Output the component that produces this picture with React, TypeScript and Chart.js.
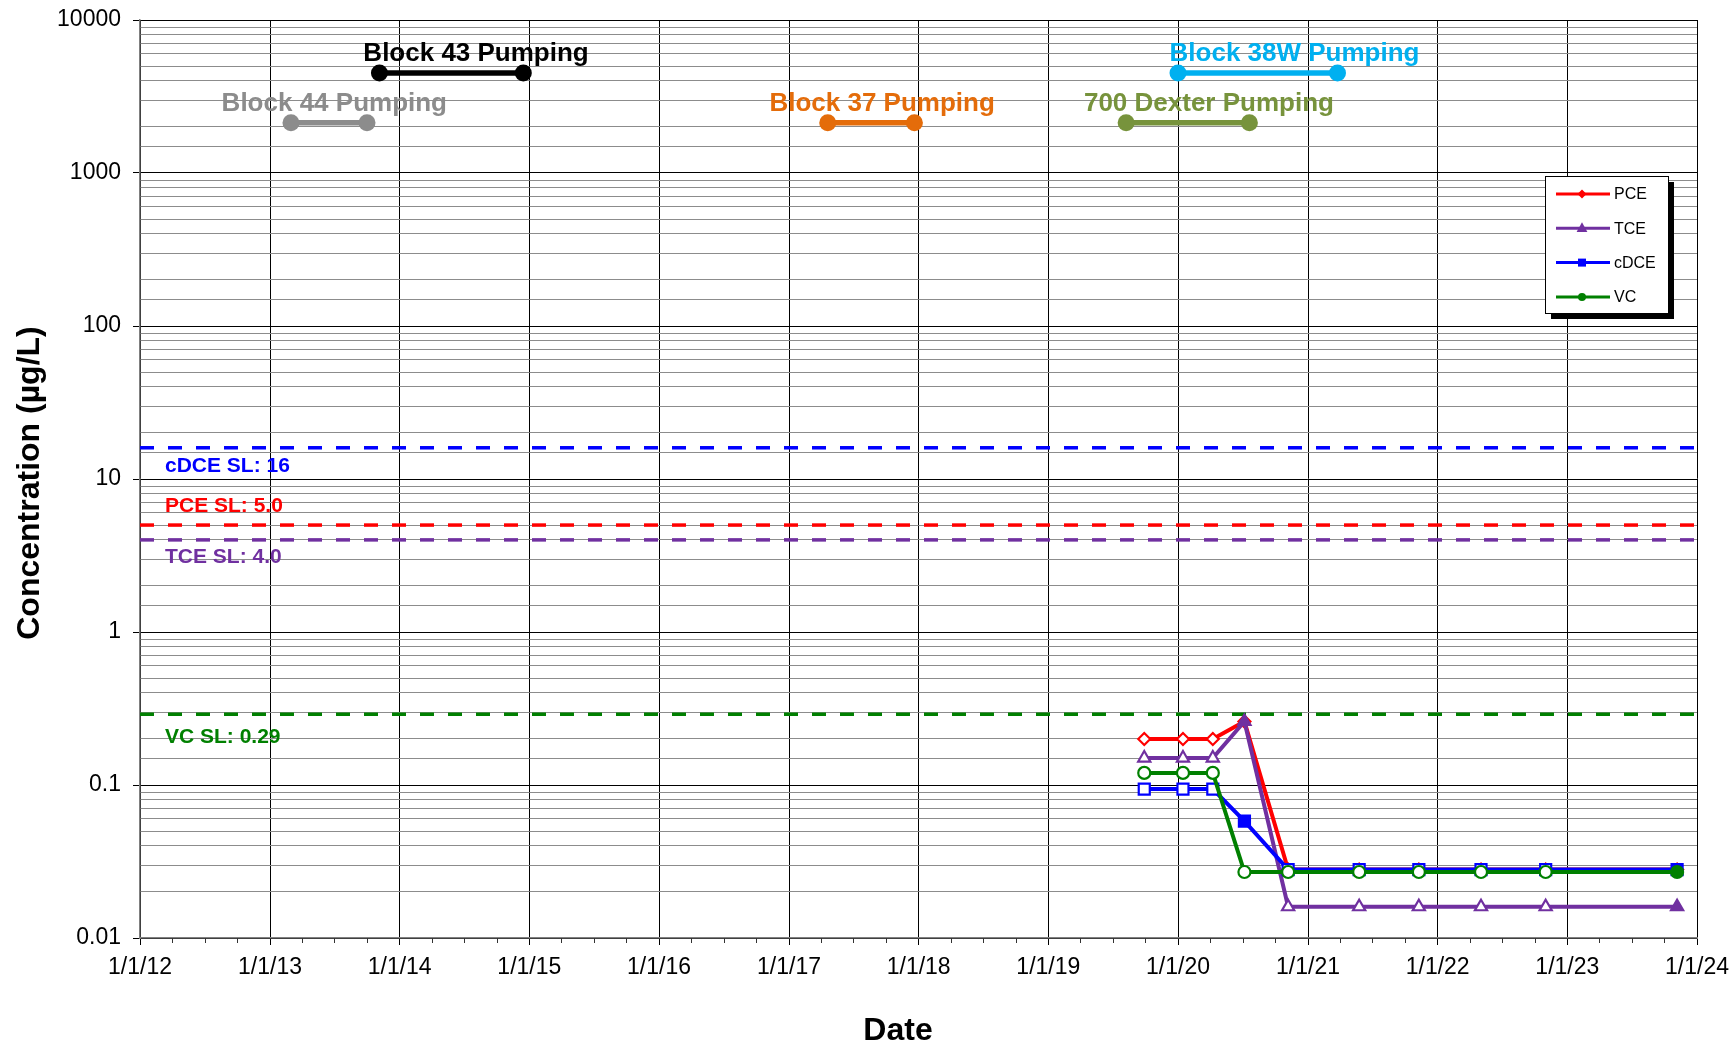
import React, { useEffect, useRef } from 'react';
import { Chart, registerables } from 'chart.js';

Chart.register(...registerables);

// ---------- data ----------
const sampleDates = ['2019-09-28', '2020-01-15', '2020-04-08', '2020-07-06', '2020-11-06', '2021-05-25', '2021-11-09', '2022-05-03', '2022-11-01', '2023-11-06'];
const pceValues = [0.2, 0.2, 0.2, 0.26, 0.028, 0.028, 0.028, 0.028, 0.028, 0.028];
const tceValues = [0.15, 0.15, 0.15, 0.26, 0.016, 0.016, 0.016, 0.016, 0.016, 0.016];
const cdceValues = [0.094, 0.094, 0.094, 0.058, 0.028, 0.028, 0.028, 0.028, 0.028, 0.028];
const vcValues = [0.12, 0.12, 0.12, 0.027, 0.027, 0.027, 0.027, 0.027, 0.027, 0.027];
// detected (filled marker) flags
const pceDetected = [false, false, false, true, false, false, false, false, false, true];
const tceDetected = [false, false, false, true, false, false, false, false, false, true];
const cdceDetected = [false, false, false, true, false, false, false, false, false, true];
const vcDetected = [false, false, false, false, false, false, false, false, false, true];

const screeningLevels = [16, 5.0, 4.0, 0.29];
const screeningLabels = ['cDCE SL: 16', 'PCE SL: 5.0', 'TCE SL: 4.0', 'VC SL: 0.29'];

const pumpNames = ['Block 44 Pumping', 'Block 43 Pumping', 'Block 37 Pumping', '700 Dexter Pumping', 'Block 38W Pumping'];
const pumpStart = ['2013-03-01', '2013-11-05', '2017-04-20', '2019-08-08', '2020-01-01'];
const pumpEnd = ['2013-10-01', '2014-12-15', '2017-12-20', '2020-07-20', '2021-03-25'];
const pumpLevel = [2130, 4500, 2130, 2130, 4500];
const pumpLabelCenter = ['2013-07-01', '2014-08-04', '2017-09-20', '2020-03-28', '2020-11-24'];

const xTickDates = ['2012-01-01', '2013-01-01', '2014-01-01', '2015-01-01', '2016-01-01', '2017-01-01', '2018-01-01', '2019-01-01', '2020-01-01', '2021-01-01', '2022-01-01', '2023-01-01', '2024-01-01'];
const xTickLabels = ['1/1/12', '1/1/13', '1/1/14', '1/1/15', '1/1/16', '1/1/17', '1/1/18', '1/1/19', '1/1/20', '1/1/21', '1/1/22', '1/1/23', '1/1/24'];
const yTickValues = [0.01, 0.1, 1, 10, 100, 1000, 10000];
const yTickLabels = ['0.01', '0.1', '1', '10', '100', '1000', '10000'];

// ---------- styles ----------
const FONT = "'Liberation Sans', Arial, Helvetica, sans-serif";
const PCE_C = '#FF0000';
const TCE_C = '#7030A0';
const CDCE_C = '#0000FF';
const VC_C = '#008000';
const slColors = [CDCE_C, PCE_C, TCE_C, VC_C];
const slLabelOffsets = [24, -13, 23, 29];
const pumpColors = ['#8C8C8C', '#000000', '#E46C0A', '#77933C', '#00B0F0'];

const toMs = (d: string) => Date.parse(d + 'T00:00:00Z');
const xMin = toMs(xTickDates[0]);
const xMax = toMs(xTickDates[xTickDates.length - 1]);

const isMajor = (v: number) => {
  const l = Math.log10(v);
  return Math.abs(l - Math.round(l)) < 1e-6;
};

function seriesDataset(label: string, values: number[], detected: boolean[], color: string, style: string, radius: number, order: number) {
  return {
    type: 'line',
    label,
    data: sampleDates.map((d, i) => ({ x: toMs(d), y: values[i] })),
    borderColor: color,
    backgroundColor: color,
    borderWidth: 4,
    pointStyle: style,
    pointRadius: radius,
    pointBorderColor: color,
    pointBorderWidth: 2.2,
    pointBackgroundColor: detected.map((f) => (f ? color : '#FFFFFF')),
    tension: 0,
    order,
  };
}

function drawMarker(ctx: CanvasRenderingContext2D, style: string, x: number, y: number, r: number, color: string) {
  ctx.save();
  ctx.fillStyle = color;
  ctx.beginPath();
  if (style === 'rectRot') {
    ctx.moveTo(x, y - r);
    ctx.lineTo(x + r, y);
    ctx.lineTo(x, y + r);
    ctx.lineTo(x - r, y);
    ctx.closePath();
  } else if (style === 'triangle') {
    ctx.moveTo(x, y - r);
    ctx.lineTo(x + r * 0.9, y + r * 0.6);
    ctx.lineTo(x - r * 0.9, y + r * 0.6);
    ctx.closePath();
  } else if (style === 'rect') {
    ctx.rect(x - r, y - r, 2 * r, 2 * r);
  } else {
    ctx.arc(x, y, r, 0, Math.PI * 2);
  }
  ctx.fill();
  ctx.restore();
}

const overlayPlugin = {
  id: 'overlay',
  afterDatasetsDraw(chart: any) {
    const ctx: CanvasRenderingContext2D = chart.ctx;
    const xs = chart.scales.x;
    const ys = chart.scales.y;
    const area = chart.chartArea;
    ctx.save();
    // screening level labels
    ctx.font = `bold 21px ${FONT}`;
    ctx.textAlign = 'left';
    ctx.textBaseline = 'alphabetic';
    screeningLevels.forEach((v, i) => {
      ctx.fillStyle = slColors[i];
      ctx.fillText(screeningLabels[i], area.left + 25, ys.getPixelForValue(v) + slLabelOffsets[i]);
    });
    // pumping labels
    ctx.font = `bold 26px ${FONT}`;
    ctx.textAlign = 'center';
    pumpNames.forEach((name, i) => {
      ctx.fillStyle = pumpColors[i];
      ctx.fillText(name, xs.getPixelForValue(toMs(pumpLabelCenter[i])), ys.getPixelForValue(pumpLevel[i]) - 12);
    });
    ctx.restore();
  },
  afterDraw(chart: any) {
    const ctx: CanvasRenderingContext2D = chart.ctx;
    const xs = chart.scales.x;
    const area = chart.chartArea;
    ctx.save();
    // minor quarterly ticks on x axis
    ctx.strokeStyle = '#333333';
    ctx.lineWidth = 1;
    for (let yr = 2012; yr < 2024; yr++) {
      for (const m of [3, 6, 9]) {
        const px = Math.round(xs.getPixelForValue(Date.UTC(yr, m, 1))) + 0.5;
        ctx.beginPath();
        ctx.moveTo(px, area.bottom);
        ctx.lineTo(px, area.bottom + 5);
        ctx.stroke();
      }
    }
    // axis titles
    ctx.fillStyle = '#000000';
    ctx.font = `bold 32px ${FONT}`;
    ctx.textAlign = 'center';
    ctx.textBaseline = 'alphabetic';
    ctx.fillText('Date', 898, 1040);
    ctx.save();
    ctx.translate(39, 483);
    ctx.rotate(-Math.PI / 2);
    ctx.fillText('Concentration (\u00B5g/L)', 0, 0);
    ctx.restore();

    // legend
    const lx = area.right - 152;
    const ly = area.top + 156;
    const lw = 123;
    const lh = 137;
    ctx.fillStyle = '#000000';
    ctx.fillRect(lx + 6, ly + 6, lw, lh);
    ctx.fillStyle = '#FFFFFF';
    ctx.fillRect(lx, ly, lw, lh);
    ctx.strokeStyle = '#000000';
    ctx.lineWidth = 1;
    ctx.strokeRect(lx + 0.5, ly + 0.5, lw, lh);
    const entries = [
      { label: 'PCE', color: PCE_C, style: 'rectRot', r: 4.5 },
      { label: 'TCE', color: TCE_C, style: 'triangle', r: 6 },
      { label: 'cDCE', color: CDCE_C, style: 'rect', r: 4 },
      { label: 'VC', color: VC_C, style: 'circle', r: 4 },
    ];
    ctx.font = `16px ${FONT}`;
    ctx.textAlign = 'left';
    ctx.textBaseline = 'middle';
    entries.forEach((e, i) => {
      const ey = ly + 18 + i * 34.3;
      ctx.strokeStyle = e.color;
      ctx.lineWidth = 3;
      ctx.beginPath();
      ctx.moveTo(lx + 11, ey);
      ctx.lineTo(lx + 65, ey);
      ctx.stroke();
      drawMarker(ctx, e.style, lx + 37, ey, e.r, e.color);
      ctx.fillStyle = '#000000';
      ctx.fillText(e.label, lx + 69, ey + 1);
    });
    ctx.restore();
  },
};

export default function App() {
  const canvasRef = useRef<HTMLCanvasElement | null>(null);

  useEffect(() => {
    if (!canvasRef.current) return;
    Chart.defaults.font.family = FONT;
    Chart.defaults.color = '#000000';

    const slDatasets = screeningLevels.map((v, i) => ({
      type: 'line',
      label: screeningLabels[i],
      data: [{ x: xMin, y: v }, { x: xMax, y: v }],
      borderColor: slColors[i],
      borderWidth: 3.5,
      borderDash: [14, 14],
      pointRadius: 0,
      order: 20,
    }));

    const pumpDatasets = pumpNames.map((name, i) => ({
      type: 'line',
      label: name,
      data: [{ x: toMs(pumpStart[i]), y: pumpLevel[i] }, { x: toMs(pumpEnd[i]), y: pumpLevel[i] }],
      borderColor: pumpColors[i],
      backgroundColor: pumpColors[i],
      borderWidth: 5.5,
      pointRadius: 8.5,
      pointBorderWidth: 0,
      pointBackgroundColor: pumpColors[i],
      order: 10,
    }));

    const chart = new Chart(canvasRef.current, {
      type: 'line',
      data: {
        datasets: [
          ...slDatasets,
          ...pumpDatasets,
          seriesDataset('PCE', pceValues, pceDetected, PCE_C, 'rectRot', 6, 4),
          seriesDataset('TCE', tceValues, tceDetected, TCE_C, 'triangle', 7, 3),
          seriesDataset('cDCE', cdceValues, cdceDetected, CDCE_C, 'rect', 7.8, 2),
          seriesDataset('VC', vcValues, vcDetected, VC_C, 'circle', 6, 1),
        ] as any,
      },
      options: {
        responsive: false,
        animation: false,
        events: [],
        layout: { padding: { top: 20, right: 38, left: 0, bottom: 0 } },
        plugins: {
          legend: { display: false },
          tooltip: { enabled: false },
          title: { display: false },
        },
        scales: {
          x: {
            type: 'linear',
            min: xMin,
            max: xMax,
            afterBuildTicks: (scale: any) => {
              scale.ticks = xTickDates.map((d) => ({ value: toMs(d) }));
            },
            afterFit: (scale: any) => {
              scale.height = 104;
              scale.paddingLeft = 0;
              scale.paddingRight = 0;
            },
            ticks: {
              autoSkip: false,
              maxRotation: 0,
              padding: 9,
              font: { size: 23, family: FONT },
              color: '#000000',
              callback: (value: any) => {
                const idx = xTickDates.findIndex((d) => toMs(d) === value);
                return idx >= 0 ? xTickLabels[idx] : '';
              },
            },
            grid: {
              color: '#000000',
              lineWidth: 1,
              tickLength: 7,
              tickColor: '#000000',
            },
            border: { color: '#808080', width: 1.5 },
          },
          y: {
            type: 'logarithmic',
            min: 0.01,
            max: 10000,
            afterFit: (scale: any) => {
              scale.width = 140;
              scale.paddingTop = 0;
              scale.paddingBottom = 0;
            },
            ticks: {
              autoSkip: false,
              padding: 12,
              font: { size: 23, family: FONT },
              color: '#000000',
              callback: (value: any) => {
                const v = Number(value);
                if (!isMajor(v)) return '';
                const idx = yTickValues.findIndex((t) => Math.abs(Math.log10(t) - Math.log10(v)) < 1e-6);
                return idx >= 0 ? yTickLabels[idx] : '';
              },
            },
            grid: {
              color: (ctx: any) => (ctx.tick && isMajor(ctx.tick.value) ? '#000000' : '#8C8C8C'),
              lineWidth: 1,
              tickLength: 7,
              tickColor: (ctx: any) => (ctx.tick && isMajor(ctx.tick.value) ? '#000000' : 'rgba(0,0,0,0)'),
            },
            border: { color: '#808080', width: 1.5 },
          },
        },
      },
      plugins: [overlayPlugin],
    } as any);

    return () => {
      chart.destroy();
    };
  }, []);

  return (
    <div style={{ position: 'fixed', left: 0, top: 0, width: 1735, height: 1042, background: '#FFFFFF' }}>
      <canvas ref={canvasRef} width={1735} height={1042} style={{ display: 'block' }} />
    </div>
  );
}
